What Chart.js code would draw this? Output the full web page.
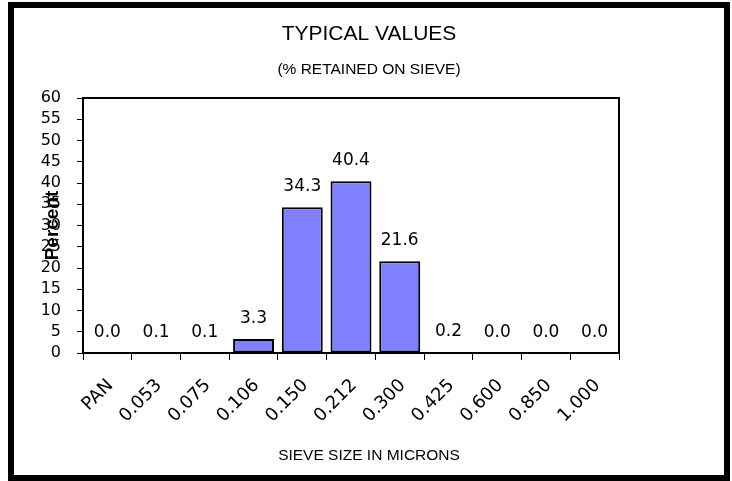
<!DOCTYPE html>
<html>
<head>
<meta charset="utf-8">
<title>Typical values</title>
<script src="https://cdn.jsdelivr.net/npm/chart.js@4.4.1/dist/chart.umd.min.js"></script>
<style>
    html, body { margin: 0; padding: 0; background: #fff; }
    #wrap { width: 732px; height: 481px; }
</style>
</head>
<body>
<div id="wrap"><canvas id="sieveChart" width="732" height="481"></canvas></div>
<script>
// data
const sieveSizes = ['PAN', '0.053', '0.075', '0.106', '0.150', '0.212', '0.300', '0.425', '0.600', '0.850', '1.000'];
const retained = [0.0, 0.1, 0.1, 3.3, 34.3, 40.4, 21.6, 0.2, 0.0, 0.0, 0.0];
const yMin = 0;
const yMax = 60;
const yStep = 5;
const xTitle = 'SIEVE SIZE IN MICRONS';

const FONT = "'Liberation Sans', Arial, sans-serif";
const NUM_FONT = "'DejaVu Sans', 'Liberation Sans', sans-serif";
const FRAME_MID = 369; // horizontal centre of the black frame

// outer black frame around the whole picture
const framePlugin = {
    id: 'frame',
    afterDraw(chart) {
        const ctx = chart.ctx;
        ctx.save();
        ctx.strokeStyle = '#000';
        ctx.lineWidth = 6;
        ctx.strokeRect(11, 5, 716, 473);
        ctx.restore();
    }
};

// titles are centred on the frame, not on the plot
const centreTitles = {
    id: 'centreTitles',
    afterLayout(chart) {
        chart.boxes.forEach(b => {
            if (!b.axis && b.options && b.options.text !== undefined) {
                b.left = 8;
                b.right = 730;
                b.width = 722;
            }
        });
    },
    afterDraw(chart) {
        const ctx = chart.ctx;
        ctx.save();
        ctx.font = '15.5px ' + FONT;
        ctx.fillStyle = '#000';
        ctx.textAlign = 'center';
        ctx.textBaseline = 'middle';
        ctx.fillText(xTitle, FRAME_MID, 456);
        ctx.restore();
    }
};

// top and right edges of the plot box
const plotBoxPlugin = {
    id: 'plotBox',
    afterDatasetsDraw(chart) {
        const { ctx, chartArea: a } = chart;
        ctx.save();
        ctx.strokeStyle = '#000';
        ctx.lineWidth = 2;
        ctx.beginPath();
        ctx.moveTo(a.left, a.top);
        ctx.lineTo(a.right, a.top);
        ctx.lineTo(a.right, a.bottom);
        ctx.stroke();
        ctx.restore();
    }
};

// value printed above every bar
const valueLabels = {
    id: 'valueLabels',
    afterDatasetsDraw(chart) {
        const ctx = chart.ctx;
        const meta = chart.getDatasetMeta(0);
        ctx.save();
        ctx.font = '17px ' + NUM_FONT;
        ctx.fillStyle = '#000';
        ctx.textAlign = 'center';
        ctx.textBaseline = 'alphabetic';
        meta.data.forEach((bar, i) => {
            const v = chart.data.datasets[0].data[i];
            ctx.fillText(v.toFixed(1), bar.x, bar.y - 16);
        });
        ctx.restore();
    }
};

Chart.defaults.font.family = FONT;
Chart.defaults.color = '#000';

new Chart(document.getElementById('sieveChart'), {
    type: 'bar',
    data: {
        labels: sieveSizes,
        datasets: [{
            data: retained,
            backgroundColor: '#8080FF',
            borderColor: '#000',
            borderWidth: 2,
            borderSkipped: false,
            categoryPercentage: 1,
            barPercentage: 0.84
        }]
    },
    options: {
        responsive: false,
        animation: false,
        layout: { padding: { left: 41, right: 113, top: 10, bottom: 17.6 } },
        plugins: {
            legend: { display: false },
            tooltip: { enabled: false },
            title: {
                display: true,
                text: 'TYPICAL VALUES',
                font: { size: 21, weight: 'normal' },
                color: '#000',
                padding: { top: 11.4, bottom: 0 }
            },
            subtitle: {
                display: true,
                text: '(% RETAINED ON SIEVE)',
                font: { size: 15.5 },
                color: '#000',
                padding: { top: 14.1, bottom: 18.7 }
            }
        },
        scales: {
            x: {
                grid: { display: true, drawOnChartArea: false, offset: true, color: '#000', tickLength: 7, lineWidth: 1 },
                border: { display: true, color: '#000', width: 2 },
                ticks: { font: { size: 18, family: NUM_FONT }, minRotation: 45, maxRotation: 45, autoSkip: false, padding: 15, labelOffset: 3 },
                afterFit(scale) { scale.height = 110.4; }
            },
            y: {
                min: yMin,
                max: yMax,
                grid: { display: true, drawOnChartArea: false, color: '#000', tickLength: 6, lineWidth: 1 },
                border: { display: true, color: '#000', width: 2 },
                ticks: { stepSize: yStep, autoSkip: false, font: { size: 16, family: NUM_FONT }, padding: 16 },
                title: { display: true, text: 'Percent', font: { size: 19, weight: 'bold' }, padding: 0 },
                afterFit(scale) { scale.width = 42; }
            }
        }
    },
    plugins: [centreTitles, plotBoxPlugin, valueLabels, framePlugin]
});
</script>
</body>
</html>
